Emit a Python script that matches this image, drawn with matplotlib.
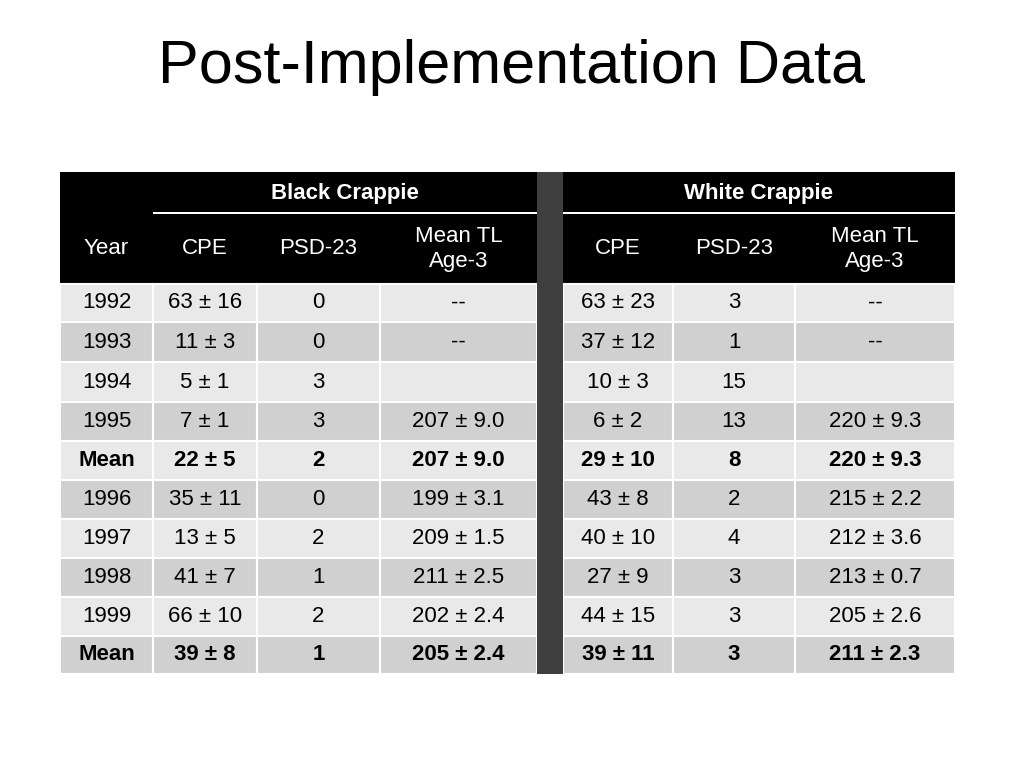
import matplotlib.pyplot as plt
from matplotlib.patches import Rectangle

years = ["1992", "1993", "1994", "1995", "Mean", "1996", "1997", "1998", "1999", "Mean"]
bc_cpe = ["63 ± 16", "11 ± 3", "5 ± 1", "7 ± 1", "22 ± 5", "35 ± 11", "13 ± 5", "41 ± 7", "66 ± 10", "39 ± 8"]
bc_psd = ["0", "0", "3", "3", "2", "0", "2", "1", "2", "1"]
bc_tl = ["--", "--", "", "207 ± 9.0", "207 ± 9.0", "199 ± 3.1", "209 ± 1.5", "211 ± 2.5", "202 ± 2.4", "205 ± 2.4"]
wc_cpe = ["63 ± 23", "37 ± 12", "10 ± 3", "6 ± 2", "29 ± 10", "43 ± 8", "40 ± 10", "27 ± 9", "44 ± 15", "39 ± 11"]
wc_psd = ["3", "1", "15", "13", "8", "2", "4", "3", "3", "3"]
wc_tl = ["--", "--", "", "220 ± 9.3", "220 ± 9.3", "215 ± 2.2", "212 ± 3.6", "213 ± 0.7", "205 ± 2.6", "211 ± 2.3"]
col_heads = ["Year", "CPE", "PSD-23", "Mean TL\nAge-3", None, "CPE", "PSD-23", "Mean TL\nAge-3"]

col_edges = [60, 153, 257, 380, 537, 563, 673, 795, 955]
row_edges = [284, 322, 362, 402, 441, 480, 519, 558, 597, 636, 674]
font = "Liberation Sans"
fs = 16

fig = plt.figure(figsize=(10.24, 7.68), dpi=100)
ax = fig.add_axes([0, 0, 1, 1])
ax.set_xlim(0, 1024)
ax.set_ylim(768, 0)
ax.axis("off")

ax.text(512, 68, "Post-Implementation Data", ha="center", va="center",
        fontsize=44, family=font)

# header block
ax.add_patch(Rectangle((60, 172), 895, 112, color="black", lw=0))
ax.add_patch(Rectangle((153, 212), 802, 1.5, color="white", lw=0))
ax.text(345, 193, "Black Crappie", ha="center", va="center", color="white",
        fontsize=fs, weight="bold", family=font)
ax.text(759, 193, "White Crappie", ha="center", va="center", color="white",
        fontsize=fs, weight="bold", family=font)
for i, h in enumerate(col_heads):
    if h is None:
        continue
    cx = (col_edges[i] + col_edges[i + 1]) / 2
    ax.text(cx, 249, h, ha="center", va="center", color="white",
            fontsize=fs, family=font, linespacing=1.3)

columns = [years, bc_cpe, bc_psd, bc_tl, None, wc_cpe, wc_psd, wc_tl]
for r in range(len(years)):
    y0, y1 = row_edges[r], row_edges[r + 1]
    shade = "#e9e9e9" if r % 2 == 0 else "#d0d0d0"
    bold = years[r] == "Mean"
    for c, vals in enumerate(columns):
        x0, x1 = col_edges[c], col_edges[c + 1]
        if vals is None:
            continue
        ax.add_patch(Rectangle((x0, y0), x1 - x0, y1 - y0, facecolor=shade,
                               edgecolor="white", lw=1.5))
        ax.text((x0 + x1) / 2, (y0 + y1) / 2, vals[r], ha="center", va="center",
                fontsize=fs, family=font, weight="bold" if bold else "normal")

# gap column
ax.add_patch(Rectangle((537, 172), 26, 502, color="#3f3f3f", lw=0))

fig.savefig("out.png", dpi=100)
